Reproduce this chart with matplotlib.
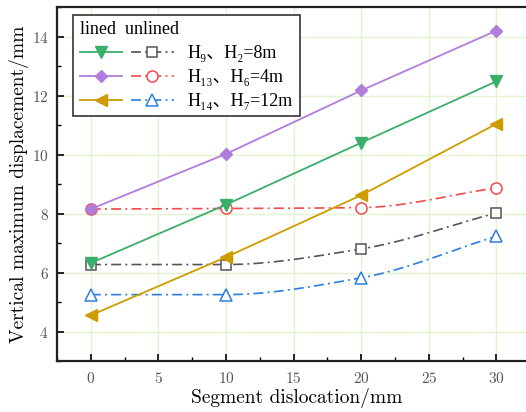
import numpy as np
import matplotlib
matplotlib.use("Agg")
import matplotlib.pyplot as plt
from matplotlib.legend_handler import HandlerTuple

# Data
x = [0, 10, 20, 30]
lined_h9 = [6.32, 8.3, 10.4, 12.48]
lined_h13 = [8.15, 10.02, 12.17, 14.2]
lined_h14 = [4.55, 6.52, 8.62, 11.04]
unlined_h2 = [6.27, 6.27, 6.8, 8.02]
unlined_h6 = [8.15, 8.17, 8.2, 8.87]
unlined_h7 = [5.25, 5.25, 5.82, 7.23]
labels = ["H\u2089\u3001H\u2082=8m", "H\u2081\u2083\u3001H\u2086=4m", "H\u2081\u2084\u3001H\u2087=12m"]


def pchip(xs, ys, n=100):
    # monotone cubic (Fritsch-Carlson) for the smooth dashed curves
    xs = np.asarray(xs, float)
    ys = np.asarray(ys, float)
    h = np.diff(xs)
    d = np.diff(ys) / h
    m = np.zeros_like(ys)
    m[0], m[-1] = d[0], d[-1]
    for i in range(1, len(xs) - 1):
        if d[i - 1] * d[i] <= 0:
            m[i] = 0
        else:
            w1 = 2 * h[i] + h[i - 1]
            w2 = h[i] + 2 * h[i - 1]
            m[i] = (w1 + w2) / (w1 / d[i - 1] + w2 / d[i])
    xf = np.linspace(xs[0], xs[-1], n)
    k = np.clip(np.searchsorted(xs, xf) - 1, 0, len(xs) - 2)
    t = (xf - xs[k]) / h[k]
    h00 = 2 * t**3 - 3 * t**2 + 1
    h10 = t**3 - 2 * t**2 + t
    h01 = -2 * t**3 + 3 * t**2
    h11 = t**3 - t**2
    yf = h00 * ys[k] + h10 * h[k] * m[k] + h01 * ys[k + 1] + h11 * h[k] * m[k + 1]
    return xf, yf


plt.rcParams['font.family'] = ['cmr10', 'DejaVu Serif']
plt.rcParams['axes.formatter.use_mathtext'] = True
legend_font = ['Liberation Serif', 'DejaVu Serif', 'Noto Sans CJK SC']

fig = plt.figure(figsize=(5.26, 4.12), dpi=100)
# axes runs past the right edge of the picture, as in the reference crop
ax = fig.add_axes([57 / 526, 51 / 412, 480 / 526, 354 / 412])

dash = (0, (6, 2.5, 1.2, 2.5))

# unlined (dash-dot, smoothed)
unl = []
for ys, c, mk, ms in [(unlined_h2, '#555555', 's', 6.5),
                      (unlined_h6, '#f24a4a', 'o', 8),
                      (unlined_h7, '#2b7de0', '^', 8)]:
    xf, yf = pchip(x, ys)
    ax.plot(xf, yf, color=c, lw=1.2, ls=dash, zorder=3)
    ax.plot(x, ys, ls='none', marker=mk, ms=ms, mfc='white', mec=c, mew=1.1, zorder=4)
    unl.append(plt.Line2D([], [], color=c, lw=1.2, ls=dash, marker=mk, ms=ms,
                          mfc='white', mec=c, mew=1.1))

# lined (solid)
lin = []
for ys, c, mk, ms in [(lined_h9, '#3aaf6c', 'v', 9),
                      (lined_h13, '#b07ddc', 'D', 6.5),
                      (lined_h14, '#cf9c00', '<', 9)]:
    l, = ax.plot(x, ys, color=c, lw=1.3, marker=mk, ms=ms, zorder=5)
    lin.append(l)

ax.set_xlim(-2.5, 33.0)
ax.set_ylim(3, 15)
ax.set_xticks([0, 5, 10, 15, 20, 25, 30])
ax.set_xticks(np.arange(-2.5, 33, 2.5), minor=True)
ax.set_yticks([4, 6, 8, 10, 12, 14])
ax.set_yticks(np.arange(3, 15.5, 1), minor=True)
ax.grid(True, which='major', color='#e4f4cf', lw=1, zorder=0)
ax.set_axisbelow(True)
ax.tick_params(which='major', direction='in', length=5, width=1.2, labelsize=11,
               labelcolor='#555555')
ax.tick_params(axis='x', which='major', pad=7)
ax.tick_params(axis='y', which='major', pad=6)
ax.tick_params(which='minor', direction='in', length=3, width=1)
for s in ax.spines.values():
    s.set_linewidth(1.6)
    s.set_color('#222222')

ax.set_xlabel("Segment dislocation/mm", fontsize=14, labelpad=2)
ax.set_ylabel("Vertical maximum displacement/mm", fontsize=14, labelpad=2)

leg = ax.legend([(a, b) for a, b in zip(lin, unl)], labels,
                handler_map={tuple: HandlerTuple(ndivide=None, pad=0.5)},
                handlelength=5.2, title="lined  unlined", alignment='left',
                loc='upper left', bbox_to_anchor=(0.034, 0.977), borderaxespad=0,
                prop={'family': legend_font, 'size': 13},
                fancybox=False, framealpha=1,
                edgecolor='#333333', handletextpad=0.8, labelspacing=0.38,
                borderpad=0.35)
leg.get_title().set_fontfamily(legend_font)
leg.get_title().set_fontsize(13)
leg.get_frame().set_linewidth(1.2)

fig.savefig("out.png", dpi=100)
